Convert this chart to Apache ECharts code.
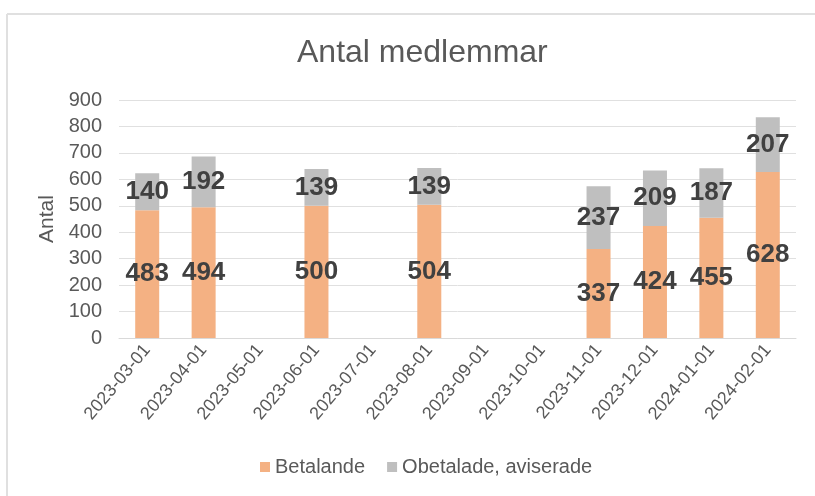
<!DOCTYPE html>
<html>
<head>
<meta charset="utf-8">
<script src="https://cdn.jsdelivr.net/npm/echarts@6/dist/echarts.min.js"></script>
<style>
  * { margin: 0; padding: 0; }
  body { background: #fff; }
  #chart { width: 815px; height: 496px; }
</style>
</head>
<body>
<div id="chart"></div>
<script>
var months = ["2023-03-01", "2023-04-01", "2023-05-01", "2023-06-01", "2023-07-01", "2023-08-01",
  "2023-09-01", "2023-10-01", "2023-11-01", "2023-12-01", "2024-01-01", "2024-02-01"];
var betalande = [483, 494, null, 500, null, 504, null, null, 337, 424, 455, 628];
var obetalade = [140, 192, null, 139, null, 139, null, null, 237, 209, 187, 207];

var chart = echarts.init(document.getElementById("chart"));

var labelStyle = {
  show: true,
  position: "inside",
  fontSize: 26,
  fontWeight: "bold",
  fontFamily: "Liberation Sans, Arial, sans-serif",
  color: "#404040",
  formatter: function (p) {
    return p.value == null ? "" : p.value;
  }
};

var option = {
  animation: false,
  textStyle: { fontFamily: "Liberation Sans, Arial, sans-serif" },
  title: {
    text: "Antal medlemmar",
    left: 292,
    top: 32,
    textStyle: { fontSize: 32, fontWeight: "normal", color: "#595959" }
  },
  // ram runt diagrammet
  graphic: [
    { type: "line", shape: { x1: 7, y1: 14, x2: 815, y2: 14 }, style: { stroke: "#e0e0e0", lineWidth: 2 } },
    { type: "line", shape: { x1: 7, y1: 14, x2: 7, y2: 496 }, style: { stroke: "#e0e0e0", lineWidth: 2 } }
  ],
  legend: {
    bottom: 14,
    left: 255,
    itemWidth: 10,
    itemHeight: 10,
    itemGap: 22,
    icon: "rect",
    textStyle: { fontSize: 20, color: "#595959" },
    data: ["Betalande", "Obetalade, aviserade"]
  },
  grid: { left: 119, right: 19, top: 100, bottom: 158 },
  xAxis: {
    type: "category",
    data: months,
    axisLine: { lineStyle: { color: "#d9d9d9", width: 1 } },
    axisTick: { show: false },
    axisLabel: { rotate: 50, fontSize: 18, color: "#595959", margin: 9, interval: 0 }
  },
  yAxis: {
    type: "value",
    min: 0,
    max: 900,
    interval: 100,
    name: "Antal",
    nameLocation: "middle",
    nameGap: 58,
    nameTextStyle: { fontSize: 21, color: "#595959" },
    axisLine: { show: false },
    axisTick: { show: false },
    axisLabel: { fontSize: 20, color: "#595959", margin: 17 },
    splitLine: { lineStyle: { color: "#e0e0e0", width: 1 } }
  },
  series: [
    {
      name: "Betalande",
      type: "bar",
      stack: "total",
      barWidth: 24,
      data: betalande,
      itemStyle: { color: "#F4B183" },
      label: labelStyle
    },
    {
      name: "Obetalade, aviserade",
      type: "bar",
      stack: "total",
      barWidth: 24,
      data: obetalade,
      itemStyle: { color: "#BFBFBF" },
      label: labelStyle
    }
  ]
};
chart.setOption(option);
</script>
</body>
</html>
